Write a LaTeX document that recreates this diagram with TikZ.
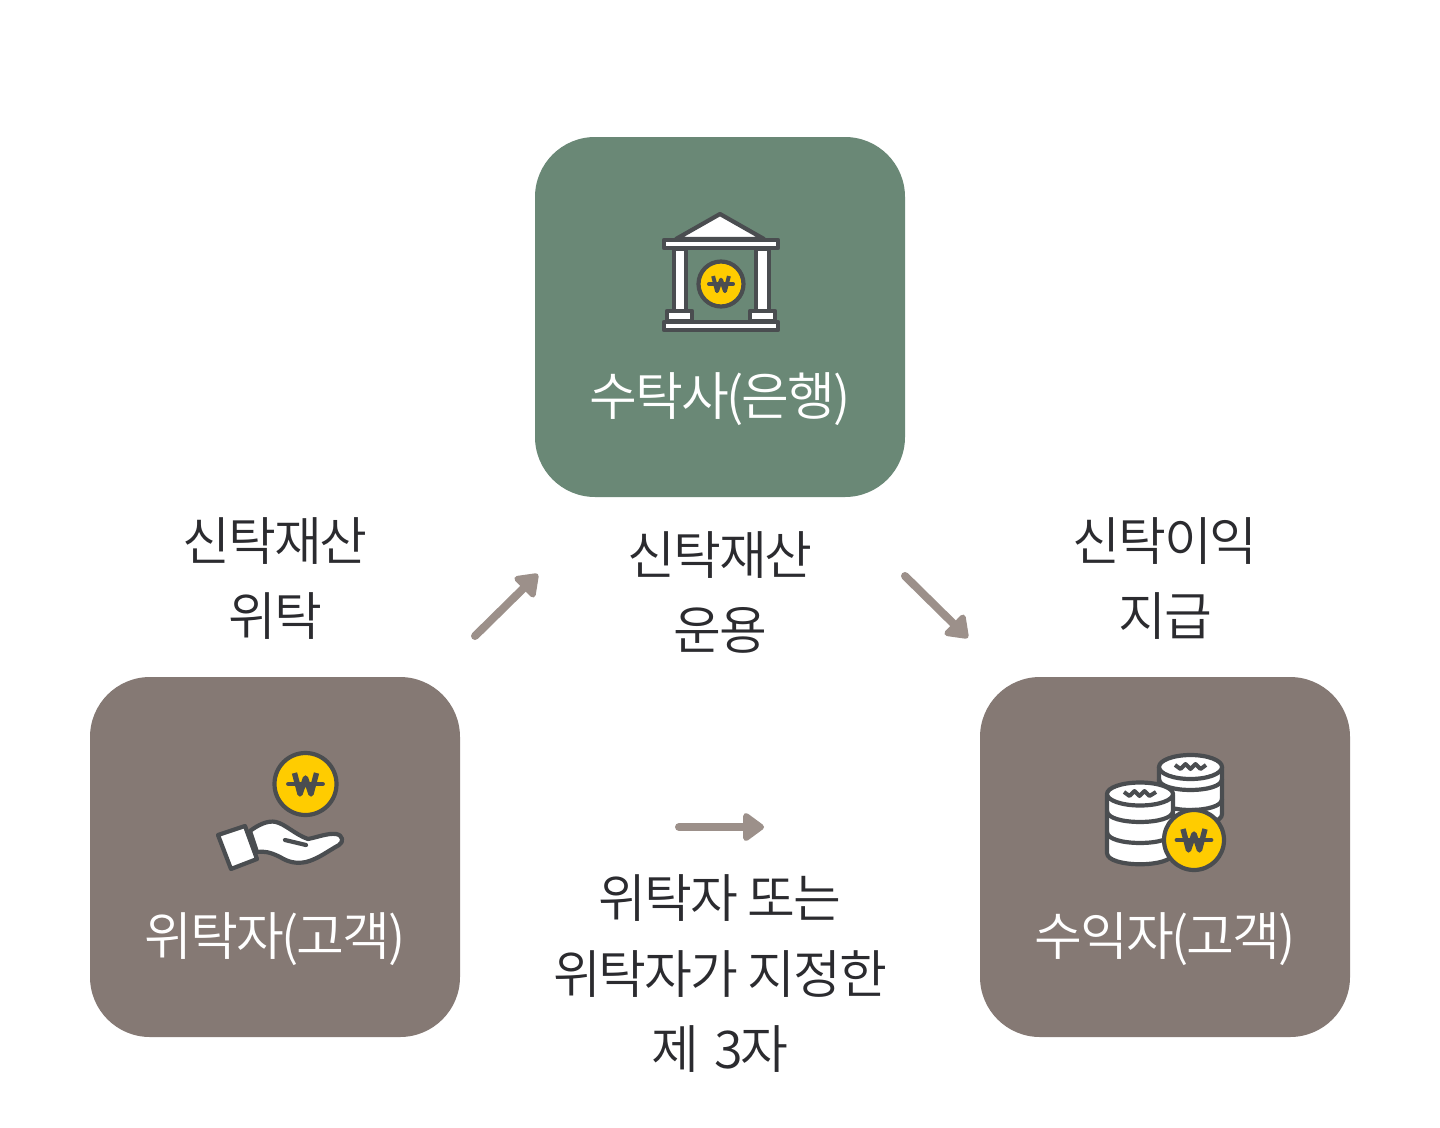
\documentclass[tikz,border=0pt]{standalone}
\usepackage{fontspec}
\setmainfont[LetterSpace=-4]{Noto Sans CJK KR DemiLight}
\usetikzlibrary{arrows.meta}
\definecolor{boxgreen}{HTML}{6A8876}
\definecolor{boxtaupe}{HTML}{857974}
\definecolor{arrowc}{HTML}{9C908A}
\definecolor{inkc}{HTML}{2B2B2F}
\definecolor{icond}{HTML}{4A4D50}
\definecolor{coiny}{HTML}{FFCC00}
\tikzset{
  x=1pt,y=-1pt,
  card/.style={minimum width=370pt,minimum height=360pt,rounded corners=60pt,inner sep=0pt,draw=none},
  cardlabel/.style={text=white,font=\fontsize{52}{52}\selectfont,inner sep=0pt},
  caption/.style={text=inkc,font=\fontsize{52}{75.5}\selectfont,align=center,inner sep=0pt},
  flow/.style={arrowc,line width=8pt,line cap=round,-{Triangle[round,length=23pt,width=32pt]},shorten >=3pt},
  ic/.style={draw=icond,line width=4.2pt,fill=white,line join=round},
  icl/.style={draw=icond,line width=4.2pt,line cap=round,line join=round},
}
\newcommand{\wonmark}[3]{%
  \begin{scope}[shift={(#1,#2)},scale=#3]
    \draw[icond,line width=#3*5.4pt,line join=round] (-11,-11)--(-5.5,10)--(0,-6)--(5.5,10)--(11,-11);
    \draw[icond,line width=#3*4.8pt,line cap=round] (-17,0)--(17,0);
  \end{scope}}
\newcommand{\coin}[4]{%
  \draw[icond,fill=coiny,line width=4.2pt] (#1,#2) circle (#3);
  \wonmark{#1}{#2}{#4}}
% one coin edge of a stack: left x, right x, y at the sides, depth of the curve
\newcommand{\bandedge}[4]{%
  \draw[icl] (#1,#3) .. controls (#1,#3+#4*1.33) and (#2,#3+#4*1.33) .. (#2,#3);}
\begin{document}
\begin{tikzpicture}
\useasboundingbox (0,0) rectangle (1440,1127);
\node[card,fill=boxgreen] (bank) at (720,317) {};
\node[card,fill=boxtaupe] (giver) at (275,857) {};
\node[card,fill=boxtaupe] (taker) at (1165,857) {};
\node[cardlabel] (banklabel) at (720,399) {수탁사(은행)};
\node[cardlabel] (giverlabel) at (275,939) {위탁자(고객)};
\node[cardlabel] (takerlabel) at (1165,939) {수익자(고객)};
\node[caption] (c1) at (275,578.5) {신탁재산\\위탁};
\node[caption] (c2) at (720,592.5) {신탁재산\\운용};
\node[caption] (c3) at (1165,578.5) {신탁이익\\지급};
\node[caption] (c4) at (720,974) {위탁자 또는\\위탁자가 지정한\\제\hspace{5pt} 3자};
\coordinate (a1s) at (475,636); \coordinate (a1e) at (540,572);
\coordinate (a2s) at (905,576); \coordinate (a2e) at (970,640);
\coordinate (a3s) at (679,827); \coordinate (a3e) at (767,827);
\draw[flow] (a1s) -- (a1e);
\draw[flow] (a2s) -- (a2e);
\draw[flow] (a3s) -- (a3e);
% bank icon
\draw[ic] (720,214) -- (764,239) -- (676,239) -- cycle;
\draw[ic] (664,240) rectangle (778,248);
\draw[ic] (674,249) rectangle (686,311);
\draw[ic] (756,249) rectangle (769,311);
\draw[ic] (667,311) rectangle (692,321);
\draw[ic] (750,311) rectangle (775,321);
\draw[ic] (664,322) rectangle (778,330);
\coin{721}{284}{22.5}{0.72}
% hand icon
\coin{305.5}{784}{31}{1}
\draw[ic] (250,831) .. controls (258,825) and (268,820) .. (276,822)
  .. controls (285,824) and (296,835) .. (308,839)
  .. controls (318,837) and (328,833) .. (336,834)
  .. controls (343,835) and (344,842) .. (339,845)
  .. controls (328,851) and (318,859) .. (306,862)
  .. controls (296,864) and (288,862) .. (280,857)
  .. controls (270,852) and (264,851) .. (257,852) -- cycle;
\draw[icl] (285,840) -- (306,845);
\draw[ic] (218,835) -- (245,826) -- (257,859) -- (231,869) -- cycle;
% coins icon: back stack
\draw[ic] (1159,767) -- (1159,814) .. controls (1159,829) and (1222,829) .. (1222,814) -- (1222,767);
\bandedge{1159}{1222}{779}{11}
\bandedge{1159}{1222}{799}{11}
\draw[ic] (1190.5,767) ellipse (31.5 and 12);
\draw[icond,line width=4pt,line join=round] (1175,765) -- (1180.5,769) -- (1185.5,764) -- (1190.5,769) -- (1195.5,764) -- (1200.5,769) -- (1206,765);
% coins icon: front stack
\draw[ic] (1107,795) -- (1107,853) .. controls (1107,868) and (1173,868) .. (1173,853) -- (1173,795);
\bandedge{1107}{1173}{811}{11}
\bandedge{1107}{1173}{832}{11}
\draw[ic] (1140,794) ellipse (33 and 11.5);
\draw[icond,line width=4pt,line join=round] (1124,792) -- (1129.5,796) -- (1134.5,791) -- (1139.5,796) -- (1144.5,791) -- (1149.5,796) -- (1156,792);
\coin{1194}{840}{30}{1}
\end{tikzpicture}
\end{document}
